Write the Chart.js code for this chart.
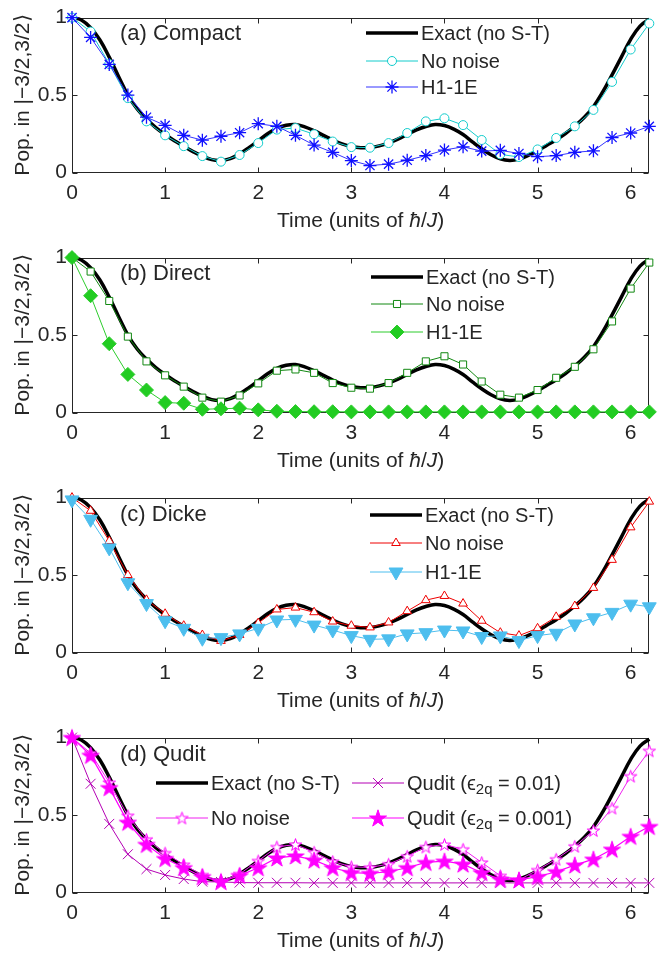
<!DOCTYPE html>
<html>
<head>
<meta charset="utf-8">
<script src="https://cdn.jsdelivr.net/npm/chart.js@4.4.0/dist/chart.umd.min.js"></script>
<style>
  body { margin: 0; background: #fff; width: 666px; height: 953px; position: relative; overflow: hidden; }
  .panel { position: absolute; left: 0; width: 666px; height: 240px; }
</style>
</head>
<body>
<div class="panel" style="top:0px"><canvas id="chartA" width="666" height="240"></canvas></div>
<div class="panel" style="top:240px"><canvas id="chartB" width="666" height="240"></canvas></div>
<div class="panel" style="top:480px"><canvas id="chartC" width="666" height="240"></canvas></div>
<div class="panel" style="top:720px"><canvas id="chartD" width="666" height="240"></canvas></div>
<script>
// --- data ---
const tExact = [0, 0.1, 0.2, 0.3, 0.4, 0.5, 0.6, 0.7, 0.8, 0.9, 1.0, 1.1, 1.2, 1.3, 1.4, 1.5, 1.6, 1.7, 1.8, 1.9,
  2.0, 2.1, 2.2, 2.3, 2.4, 2.5, 2.6, 2.7, 2.8, 2.9, 3.0, 3.1, 3.2, 3.3, 3.4, 3.5, 3.6, 3.7, 3.8, 3.9,
  4.0, 4.1, 4.2, 4.3, 4.4, 4.5, 4.6, 4.7, 4.8, 4.9, 5.0, 5.1, 5.2, 5.3, 5.4, 5.5, 5.6, 5.7, 5.8, 5.9,
  6.0, 6.1, 6.2];
const exactPop = [1.000, 0.985, 0.935, 0.855, 0.745, 0.620, 0.500, 0.410, 0.345, 0.290, 0.245, 0.205, 0.170, 0.135, 0.105, 0.083, 0.078, 0.090, 0.120, 0.160,
  0.205, 0.250, 0.285, 0.305, 0.310, 0.295, 0.270, 0.240, 0.210, 0.185, 0.168, 0.160, 0.162, 0.172, 0.190, 0.215, 0.245, 0.275, 0.297, 0.310,
  0.303, 0.280, 0.245, 0.198, 0.153, 0.115, 0.088, 0.078, 0.086, 0.110, 0.140, 0.176, 0.212, 0.252, 0.300, 0.355, 0.425, 0.520, 0.630, 0.745,
  0.860, 0.945, 0.990];

const tSample = [0, 0.2, 0.4, 0.6, 0.8, 1.0, 1.2, 1.4, 1.6, 1.8, 2.0, 2.2, 2.4, 2.6, 2.8, 3.0,
  3.2, 3.4, 3.6, 3.8, 4.0, 4.2, 4.4, 4.6, 4.8, 5.0, 5.2, 5.4, 5.6, 5.8, 6.0, 6.2];

const compactNoNoise = [1.0, 0.91, 0.70, 0.48, 0.33, 0.24, 0.17, 0.106, 0.07, 0.113, 0.19, 0.277, 0.287, 0.247, 0.20, 0.164,
  0.16, 0.19, 0.255, 0.33, 0.35, 0.306, 0.21, 0.117, 0.10, 0.149, 0.223, 0.298, 0.404, 0.585, 0.794, 0.962];
const compactH1 = [1.0, 0.872, 0.698, 0.50, 0.357, 0.304, 0.24, 0.209, 0.234, 0.257, 0.315, 0.298, 0.24, 0.177, 0.13, 0.077,
  0.045, 0.054, 0.079, 0.109, 0.145, 0.166, 0.138, 0.143, 0.123, 0.102, 0.109, 0.13, 0.14, 0.226, 0.255, 0.298];

const directNoNoise = [1.0, 0.91, 0.72, 0.49, 0.33, 0.24, 0.167, 0.096, 0.07, 0.11, 0.188, 0.27, 0.278, 0.256, 0.19, 0.16,
  0.154, 0.19, 0.256, 0.33, 0.363, 0.31, 0.20, 0.115, 0.096, 0.145, 0.224, 0.295, 0.408, 0.588, 0.80, 0.968];
const directH1 = [1.0, 0.754, 0.444, 0.246, 0.145, 0.064, 0.06, 0.021, 0.024, 0.028, 0.017, 0.008, 0.006, 0.005, 0.005, 0.004,
  0.004, 0.004, 0.004, 0.004, 0.004, 0.004, 0.004, 0.004, 0.004, 0.004, 0.004, 0.004, 0.004, 0.004, 0.004, 0.004];

const dickeNoNoise = [1.0, 0.915, 0.72, 0.50, 0.34, 0.25, 0.173, 0.113, 0.075, 0.113, 0.19, 0.278, 0.29, 0.26, 0.20, 0.173,
  0.162, 0.194, 0.267, 0.338, 0.365, 0.316, 0.205, 0.128, 0.109, 0.156, 0.23, 0.30, 0.417, 0.598, 0.808, 0.974];
const dickeH1 = [0.985, 0.86, 0.675, 0.45, 0.316, 0.205, 0.156, 0.092, 0.096, 0.12, 0.156, 0.21, 0.214, 0.177, 0.145, 0.109,
  0.085, 0.088, 0.12, 0.128, 0.145, 0.139, 0.103, 0.107, 0.077, 0.109, 0.124, 0.184, 0.224, 0.259, 0.312, 0.295];

const quditNoNoise = [1.0, 0.90, 0.71, 0.496, 0.343, 0.255, 0.18, 0.113, 0.074, 0.12, 0.204, 0.294, 0.31, 0.26, 0.20, 0.166,
  0.162, 0.183, 0.234, 0.294, 0.31, 0.279, 0.194, 0.108, 0.081, 0.145, 0.215, 0.298, 0.40, 0.545, 0.751, 0.915];
const quditE01 = [1.0, 0.702, 0.443, 0.247, 0.151, 0.113, 0.087, 0.07, 0.068, 0.064, 0.063, 0.063, 0.063, 0.062, 0.062, 0.062,
  0.062, 0.062, 0.062, 0.062, 0.062, 0.062, 0.062, 0.062, 0.062, 0.062, 0.062, 0.062, 0.062, 0.062, 0.062, 0.062];
const quditE001 = [1.0, 0.885, 0.677, 0.453, 0.31, 0.219, 0.16, 0.102, 0.07, 0.109, 0.16, 0.223, 0.236, 0.209, 0.16, 0.128,
  0.123, 0.134, 0.16, 0.194, 0.202, 0.183, 0.128, 0.085, 0.081, 0.102, 0.134, 0.177, 0.215, 0.279, 0.362, 0.426];

const xTicks = [0, 1, 2, 3, 4, 5, 6];
const yTicks = [0, 0.5, 1];

// --- styling ---
const FONT = '"Liberation Sans", Arial, Helvetica, sans-serif';
const TEXT = '#262626';
Chart.defaults.font.family = FONT;
Chart.defaults.color = TEXT;

function pairs(xs, ys) {
  return ys.map((v, i) => ({ x: xs[i], y: v }));
}

// pentagram marker (MATLAB 'p')
function makeStar(size, stroke, fill, lw) {
  const c = document.createElement('canvas');
  c.width = c.height = size;
  const g = c.getContext('2d');
  const cx = size / 2, cy = size / 2 + size * 0.04;
  const R = size / 2 - lw, r = R * 0.382;
  g.beginPath();
  for (let i = 0; i < 10; i++) {
    const ang = -Math.PI / 2 + i * Math.PI / 5;
    const rad = i % 2 ? r : R;
    g.lineTo(cx + rad * Math.cos(ang), cy + rad * Math.sin(ang));
  }
  g.closePath();
  if (fill) { g.fillStyle = fill; g.fill(); }
  g.strokeStyle = stroke;
  g.lineWidth = lw;
  g.stroke();
  return c;
}

function exactSet() {
  return {
    label: 'Exact (no S-T)', data: pairs(tExact, exactPop),
    borderColor: '#000', borderWidth: 3.5, pointRadius: 0, tension: 0.4, order: 10
  };
}

function markerSet(label, ys, color, style, radius, opts = {}) {
  return Object.assign({
    label: label, data: pairs(tSample, ys),
    borderColor: color, borderWidth: 1,
    pointStyle: style, pointRadius: radius, pointBorderColor: color,
    pointBackgroundColor: '#fff', pointBorderWidth: 1, pointRotation: 0
  }, opts);
}

// rich text: list of {t, f, dy}
function drawRich(ctx, parts, x, y, align) {
  let w = 0;
  parts.forEach(p => { ctx.font = p.f; w += ctx.measureText(p.t).width; });
  let cx = align === 'center' ? x - w / 2 : x;
  ctx.textAlign = 'left';
  parts.forEach(p => {
    ctx.font = p.f;
    ctx.fillText(p.t, cx, y + (p.dy || 0));
    cx += ctx.measureText(p.t).width;
  });
}

const f21 = '21px ' + FONT;
const i21 = 'italic 21px ' + FONT;
const xTitle = [{ t: 'Time (units of ', f: f21 }, { t: 'ħ', f: i21 }, { t: '/', f: f21 }, { t: 'J', f: i21 }, { t: ')', f: f21 }];
const yTitle = [{ t: 'Pop. in |−3/2,3/2⟩', f: f21 }];

// box + inward ticks, MATLAB style
const frameTicks = {
  id: 'frameTicks',
  beforeDatasetsDraw(chart) {
    const { ctx, chartArea: a, scales: { x, y } } = chart;
    ctx.save();
    ctx.strokeStyle = TEXT;
    ctx.lineWidth = 1;
    const L = Math.round(a.left) + 0.5, R = Math.round(a.right) - 0.5;
    const T = Math.round(a.top) + 0.5, B = Math.round(a.bottom) - 0.5;
    ctx.strokeRect(L, T, R - L, B - T);
    ctx.beginPath();
    xTicks.forEach(v => {
      const px = Math.round(x.getPixelForValue(v)) + 0.5;
      ctx.moveTo(px, B); ctx.lineTo(px, B - 5);
      ctx.moveTo(px, T); ctx.lineTo(px, T + 5);
    });
    yTicks.forEach(v => {
      const py = Math.round(y.getPixelForValue(v)) + 0.5;
      ctx.moveTo(L, py); ctx.lineTo(L + 5, py);
      ctx.moveTo(R, py); ctx.lineTo(R - 5, py);
    });
    ctx.stroke();
    ctx.restore();
  }
};

// panel label, legend, axis titles
const panelDecor = {
  id: 'panelDecor',
  afterDraw(chart, args, opts) {
    const ctx = chart.ctx;
    const a = chart.chartArea;
    ctx.save();
    ctx.fillStyle = TEXT;
    ctx.textBaseline = 'middle';

    drawRich(ctx, [{ t: opts.label, f: '22px ' + FONT }], opts.labelX, opts.labelY, 'left');

    opts.legend.forEach(item => {
      const ds = chart.data.datasets[item.index];
      ctx.strokeStyle = ds.borderColor;
      ctx.lineWidth = ds.borderWidth;
      ctx.beginPath();
      ctx.moveTo(item.x, item.y);
      ctx.lineTo(item.x + 52, item.y);
      ctx.stroke();
      if (ds.pointRadius > 0) {
        ctx.fillStyle = ds.pointBackgroundColor;
        ctx.strokeStyle = ds.pointBorderColor;
        ctx.lineWidth = ds.pointBorderWidth;
        Chart.helpers.drawPoint(ctx, {
          pointStyle: ds.pointStyle, rotation: ds.pointRotation || 0,
          radius: ds.pointRadius, borderWidth: ds.pointBorderWidth
        }, item.x + 26, item.y);
      }
      ctx.fillStyle = TEXT;
      const parts = item.rich || [{ t: ds.label, f: '20px ' + FONT }];
      drawRich(ctx, parts, item.x + 55, item.y + 1, 'left');
    });

    // axis titles
    drawRich(ctx, xTitle, (a.left + a.right) / 2, a.bottom + 48.5, 'center');
    ctx.translate(23, (a.top + a.bottom) / 2);
    ctx.rotate(-Math.PI / 2);
    drawRich(ctx, yTitle, 0, 0, 'center');
    ctx.restore();
  }
};

function makeChart(id, datasets, decor) {
  return new Chart(document.getElementById(id), {
    type: 'line',
    data: { datasets: datasets.map(d => Object.assign({ clip: false }, d)) },
    options: {
      responsive: false,
      animation: false,
      layout: { padding: { left: 0, right: 16.7, top: 16.5, bottom: 0 } },
      scales: {
        x: {
          type: 'linear', min: 0, max: 6.2,
          afterBuildTicks: s => { s.ticks = xTicks.map(v => ({ value: v })); },
          afterFit: s => { s.height = 240 - 172.5; },
          grid: { display: false, drawTicks: false },
          border: { display: false },
          ticks: { font: { size: 21 }, color: TEXT, padding: 8, maxRotation: 0 }
        },
        y: {
          type: 'linear', min: 0, max: 1,
          afterBuildTicks: s => { s.ticks = yTicks.map(v => ({ value: v })); },
          afterFit: s => { s.width = 72; },
          grid: { display: false, drawTicks: false },
          border: { display: false },
          ticks: { font: { size: 21 }, color: TEXT, padding: 5, callback: v => String(v) }
        }
      },
      plugins: {
        legend: { display: false },
        tooltip: { enabled: false },
        panelDecor: decor
      }
    },
    plugins: [frameTicks, panelDecor]
  });
}

// (a) Compact
makeChart('chartA', [
  exactSet(),
  markerSet('No noise', compactNoNoise, '#12cccc', 'circle', 4.5, { order: 5 }),
  markerSet('H1-1E', compactH1, '#1010ff', 'star', 6.5, { order: 1, pointBorderWidth: 1.3, borderColor: '#3535ff' })
], {
  label: '(a) Compact', labelX: 120, labelY: 34,
  legend: [{ index: 0, x: 366, y: 33 }, { index: 1, x: 366, y: 61 }, { index: 2, x: 366, y: 87 }]
});

// (b) Direct
makeChart('chartB', [
  exactSet(),
  markerSet('No noise', directNoNoise, '#118811', 'rect', 5, { order: 5 }),
  markerSet('H1-1E', directH1, '#2ccc2c', 'rectRot', 7, { order: 1, pointBackgroundColor: '#22cc22' })
], {
  label: '(b) Direct', labelX: 120, labelY: 34,
  legend: [{ index: 0, x: 371, y: 37 }, { index: 1, x: 371, y: 64 }, { index: 2, x: 371, y: 92 }]
});

// (c) Dicke
makeChart('chartC', [
  exactSet(),
  markerSet('No noise', dickeNoNoise, '#ee0000', 'triangle', 5, { order: 5 }),
  markerSet('H1-1E', dickeH1, '#4dbeee', 'triangle', 8, { order: 1, pointBackgroundColor: '#4dbeee', pointRotation: 180 })
], {
  label: '(c) Dicke', labelX: 120, labelY: 35,
  legend: [{ index: 0, x: 370, y: 35 }, { index: 1, x: 370, y: 63 }, { index: 2, x: 370, y: 92 }]
});

// (d) Qudit
const starOpen = makeStar(15, '#ff00ff', '#fff', 1);
const starFilled = makeStar(20, '#ff00ff', '#ff00ff', 1);
const f20 = '20px ' + FONT;
const f15 = '15px ' + FONT;
makeChart('chartD', [
  exactSet(),
  markerSet('No noise', quditNoNoise, '#f020f0', starOpen, 7, { order: 5 }),
  markerSet('Qudit 0.01', quditE01, '#b400b4', 'crossRot', 7, { order: 3 }),
  markerSet('Qudit 0.001', quditE001, '#ff00ff', starFilled, 10, { order: 1, borderWidth: 1.2 })
], {
  label: '(d) Qudit', labelX: 120, labelY: 35,
  legend: [
    { index: 0, x: 156, y: 63 },
    { index: 1, x: 156, y: 98 },
    { index: 2, x: 352, y: 63, rich: [{ t: 'Qudit (', f: f20 }, { t: 'ϵ', f: f20 }, { t: '2q', f: f15, dy: 6 }, { t: ' = 0.01)', f: f20 }] },
    { index: 3, x: 352, y: 98, rich: [{ t: 'Qudit (', f: f20 }, { t: 'ϵ', f: f20 }, { t: '2q', f: f15, dy: 6 }, { t: ' = 0.001)', f: f20 }] }
  ]
});
</script>
</body>
</html>
